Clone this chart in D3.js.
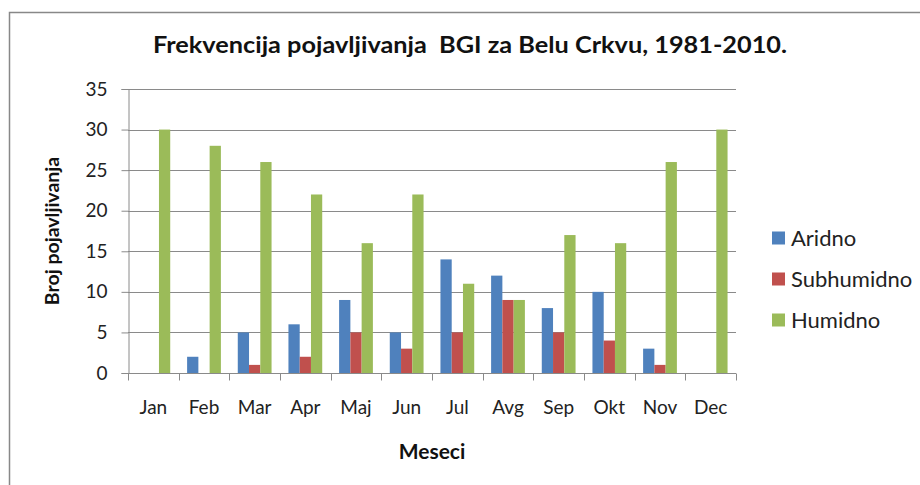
<!DOCTYPE html>
<html>
<head>
<meta charset="utf-8">
<script src="https://cdn.jsdelivr.net/npm/d3@7.9.0/dist/d3.min.js"></script>
<style>
  body { margin: 0; background: #fff; }
  svg { display: block; font-family: Lato, "Open Sans", sans-serif; }
</style>
</head>
<body>
<div id="chart"></div>
<script>
const months = ["Jan", "Feb", "Mar", "Apr", "Maj", "Jun", "Jul", "Avg", "Sep", "Okt", "Nov", "Dec"];
const seriesNames = ["Aridno", "Subhumidno", "Humidno"];
const aridno = [0, 2, 5, 6, 9, 5, 14, 12, 8, 10, 3, 0];
const subhumidno = [0, 0, 1, 2, 5, 3, 5, 9, 5, 4, 1, 0];
const humidno = [30, 28, 26, 22, 16, 22, 11, 9, 17, 16, 26, 30];
const yTicks = [0, 5, 10, 15, 20, 25, 30, 35];
const colors = ["#4F81BD", "#C0504D", "#9BBB59"];

const width = 920;
const height = 485;
const plot = { left: 128, right: 736, top: 89, bottom: 373 };

const svg = d3.select("#chart")
    .append("svg")
    .attr("width", width)
    .attr("height", height);

// outer chart border (runs off the right and bottom edges)
svg.append("rect")
    .attr("x", 9.5)
    .attr("y", 12.5)
    .attr("width", 940)
    .attr("height", 500)
    .attr("fill", "#fff")
    .attr("stroke", "#888")
    .attr("stroke-width", 1.5);

const x = d3.scaleBand()
    .domain(months)
    .range([plot.left, plot.right])
    .paddingInner(0)
    .paddingOuter(0);

const xInner = d3.scaleBand()
    .domain(seriesNames)
    .range([0, x.bandwidth()])
    .paddingInner(0)
    .paddingOuter(0.75);

const y = d3.scaleLinear()
    .domain([0, 35])
    .range([plot.bottom, plot.top]);

/* grid lines */
yTicks.forEach(t =>
    svg.append("line")
        .attr("x1", plot.left)
        .attr("x2", plot.right)
        .attr("y1", Math.round(y(t)) + 0.5)
        .attr("y2", Math.round(y(t)) + 0.5)
        .attr("stroke", "#8a8a8a")
        .attr("stroke-width", 1)
);

// y axis
const yAxis = svg.append("g")
    .attr("transform", `translate(${plot.left + 0.5},0)`)
    .call(d3.axisLeft(y).tickValues(yTicks).tickSize(7).tickPadding(14));
yAxis.select(".domain").attr("stroke", "#8a8a8a");
yAxis.selectAll(".tick line").attr("stroke", "#8a8a8a");
yAxis.selectAll(".tick text")
    .attr("font-family", "Lato, sans-serif")
    .attr("font-size", 19)
    .attr("fill", "#222");

/* bars */
const table = months.map((m, i) => ({
    month: m,
    values: [aridno[i], subhumidno[i], humidno[i]]
}));

const groups = svg.append("g")
    .selectAll("g")
    .data(table)
    .join("g")
    .attr("transform", d => `translate(${x(d.month)},0)`);

groups.selectAll("rect")
    .data(d => d.values.map((v, k) => ({ key: seriesNames[k], value: v, k })))
    .join("rect")
    .attr("x", d => xInner(d.key))
    .attr("width", xInner.bandwidth())
    .attr("y", d => y(d.value))
    .attr("height", d => y(0) - y(d.value))
    .attr("fill", d => colors[d.k]);

// x axis
const xAxis = svg.append("g")
    .attr("transform", `translate(0,${Math.round(y(0)) + 0.5})`)
    .call(d3.axisBottom(x).tickSize(0).tickPadding(27));
xAxis.select(".domain").attr("stroke", "#8a8a8a").attr("d", `M${plot.left},0H${plot.right}`);
xAxis.selectAll(".tick text")
    .attr("font-family", "Lato, sans-serif")
    .attr("font-size", 19)
    .attr("fill", "#222");
months.concat(["end"]).forEach((m, i) => {
    const xp = plot.left + i * x.step();
    xAxis.append("line")
        .attr("x1", Math.round(xp) + 0.5)
        .attr("x2", Math.round(xp) + 0.5)
        .attr("y1", 0)
        .attr("y2", 7)
        .attr("stroke", "#8a8a8a");
});

/* titles */
svg.append("text")
    .attr("x", 470)
    .attr("y", 53)
    .attr("text-anchor", "middle")
    .attr("font-weight", "bold")
    .attr("font-size", 22)
    .attr("fill", "#111")
    .attr("textLength", 634)
    .attr("lengthAdjust", "spacingAndGlyphs")
    .style("white-space", "pre")
    .text("Frekvencija pojavljivanja  BGI za Belu Crkvu, 1981-2010.");

svg.append("text")
    .attr("text-anchor", "middle")
    .attr("transform", "rotate(-90)")
    .attr("x", -231)
    .attr("y", 59)
    .attr("font-weight", "bold")
    .attr("font-size", 19.5)
    .attr("fill", "#111")
    .text("Broj pojavljivanja");

svg.append("text")
    .attr("text-anchor", "middle")
    .attr("x", 432)
    .attr("y", 459)
    .attr("font-weight", "bold")
    .attr("font-size", 21)
    .attr("fill", "#111")
    .text("Meseci");

/* legend */
const legend = svg.append("g")
    .selectAll("g")
    .data(seriesNames)
    .join("g")
    .attr("transform", (d, i) => `translate(772,${238 + i * 41})`);
legend.append("rect")
    .attr("x", 0)
    .attr("y", -6.5)
    .attr("width", 13)
    .attr("height", 13)
    .attr("fill", (d, i) => colors[i]);
legend.append("text")
    .attr("x", 19)
    .attr("y", 7.5)
    .attr("font-size", 22)
    .attr("fill", "#222")
    .text(d => d);
</script>
</body>
</html>
